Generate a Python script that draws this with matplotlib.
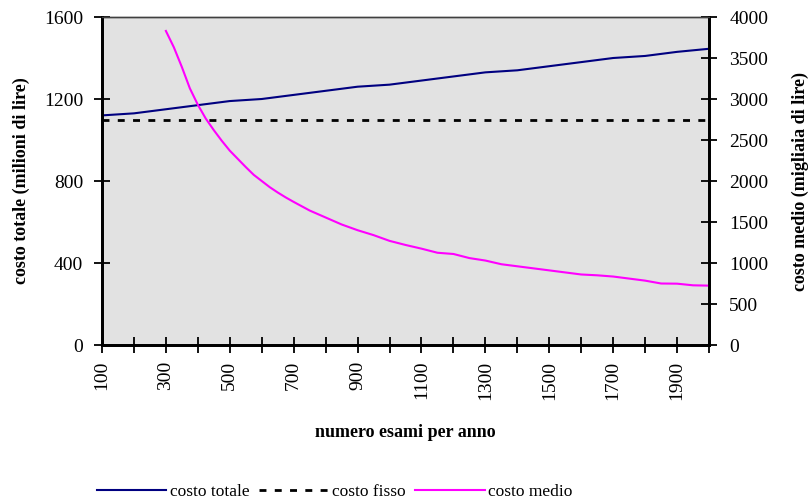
import numpy as np
import matplotlib
matplotlib.use("Agg")
import matplotlib.pyplot as plt
from matplotlib.ticker import MultipleLocator

plt.rcParams['font.family'] = ['Liberation Serif', 'DejaVu Serif']

# numero esami per anno
esami = [100, 200, 300, 400, 500, 600, 700, 800, 900, 1000,
         1100, 1200, 1300, 1400, 1500, 1600, 1700, 1800, 1900, 2000]
# costo totale (milioni di lire)
costo_totale = [1120, 1130, 1150, 1170, 1190, 1200, 1220, 1240, 1260, 1270,
                1290, 1310, 1330, 1340, 1360, 1380, 1400, 1410, 1430, 1445]
# costo fisso (milioni di lire)
costo_fisso = [1100] * len(esami)

# costo medio (migliaia di lire)
esami_medio = [300, 325, 350, 375, 400, 425, 450, 475, 500, 525, 550, 575,
               600, 625, 650, 675, 700, 750, 800, 850,
               900, 950, 1000, 1050, 1100, 1150, 1200, 1250, 1300, 1350,
               1400, 1450, 1500, 1550, 1600, 1650, 1700, 1750, 1800, 1850,
               1900, 1950, 2000]
costo_medio = [3830, 3630, 3390, 3130, 2930, 2760, 2620, 2490, 2370, 2270, 2170, 2075,
               2000, 1925, 1860, 1800, 1745, 1640, 1555, 1470,
               1400, 1340, 1270, 1220, 1175, 1125, 1110, 1060, 1030, 985,
               960, 935, 910, 885, 860, 850, 835, 810, 785, 750,
               748, 728, 724]

xtick_labels = ['100', '300', '500', '700', '900', '1100', '1300', '1500',
                '1700', '1900']

fig = plt.figure(figsize=(8.12, 5.03), dpi=100)
ax = fig.add_axes([0.1256, 0.3141, 0.8732 - 0.1256, 0.9662 - 0.3141])
ax.set_facecolor('#e2e2e2')
ax2 = ax.twinx()

l1, = ax.plot(esami, costo_totale, color='#000080', lw=1.5, label='costo totale')
l2, = ax.plot(esami, costo_fisso, color='black', lw=2.0,
              linestyle=(0, (2.5, 3.0)), label='costo fisso')
l3, = ax2.plot(esami_medio, costo_medio, color='#ff00ff', lw=1.5, label='costo medio')

ax.set_xlim(100, 2000)
ax.set_ylim(0, 1600)
ax2.set_ylim(0, 4000)

ax.set_xticks([int(t) for t in xtick_labels])
ax.set_xticklabels(xtick_labels, rotation=90)
ax.xaxis.set_minor_locator(MultipleLocator(100))
ax.set_yticks([0, 400, 800, 1200, 1600])
ax2.set_yticks(np.arange(0, 4001, 500))

fs = 14
ax.tick_params(axis='both', which='both', direction='inout', length=11, width=1.3,
               labelsize=fs, pad=6)
ax.tick_params(axis='y', right=False, pad=8)
ax2.tick_params(axis='y', direction='inout', length=11, width=1.3, labelsize=fs, pad=9)

for a in (ax, ax2):
    for side in ('left', 'bottom', 'right'):
        a.spines[side].set_linewidth(2)
        a.spines[side].set_color('black')
    a.spines['top'].set_linewidth(1)
    a.spines['top'].set_color('#404040')

ax.set_ylabel('costo totale (milioni di lire)', fontsize=13, fontweight='bold', labelpad=10)
ax2.set_ylabel('costo medio (migliaia di lire)', fontsize=13, fontweight='bold', labelpad=17)
ax.set_xlabel('numero esami per anno', fontsize=13, fontweight='bold', labelpad=17)

fig.legend(handles=[l1, l2, l3], loc='center left', bbox_to_anchor=(97 / 812, 1 - 492 / 503),
           ncol=3, frameon=False, fontsize=12.5, handlelength=4.0, handletextpad=0.2,
           columnspacing=0.55, borderpad=0, borderaxespad=0)

fig.savefig('out.png', dpi=100)
